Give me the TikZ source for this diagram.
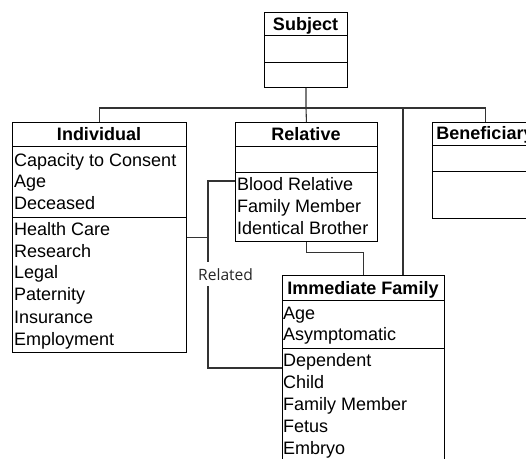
\documentclass[tikz,border=0pt]{standalone}
\usepackage{fontspec}
\setmainfont{Liberation Sans}
\newfontfamily\relfont{Open Sans}
\usetikzlibrary{calc}
\tikzset{
  box/.style={draw=black, line width=0.9pt, fill=white, inner sep=0pt, anchor=north west},
  divider/.style={draw=black, line width=0.9pt},
  title/.style={font=\fontsize{18}{22}\selectfont\bfseries, anchor=base, inner sep=0pt},
  attr/.style={font=\fontsize{18}{22}\selectfont, anchor=base west, inner sep=0pt},
  conn/.style={draw=black!80, line width=1.1pt},
  rellabel/.style={font=\relfont\fontsize{15.6}{18}\selectfont, text=black!85, fill=white, inner xsep=0pt, inner ysep=6pt, anchor=base west}
}
\begin{document}
\begin{tikzpicture}[x=1pt,y=-1pt]
\useasboundingbox (0,0) rectangle (526,458);
\clip (0,0) rectangle (526,458);

% boxes
\node[box, minimum width=83pt, minimum height=75pt] (subj) at (264,12) {};
\node[box, minimum width=174pt, minimum height=230pt] (ind) at (12,122) {};
\node[box, minimum width=142pt, minimum height=119pt] (rel) at (235,122) {};
\node[box, minimum width=106pt, minimum height=96pt] (ben) at (432,122) {};
\node[box, minimum width=162pt, minimum height=200pt] (imm) at (282,275) {};

% dividers
\foreach \b/\o in {subj/23, subj/50, ind/24, ind/95, rel/24, rel/50, ben/23, ben/49, imm/25, imm/73}
  \draw[divider] ($(\b.north west)+(0,\o)$) -- ($(\b.north east)+(0,\o)$);

% titles
\node[title] (subj-t) at (305.5,30) {Subject};
\node[title] (ind-t) at (99,140) {Individual};
\node[title] (rel-t) at (306,140) {Relative};
\node[title] (ben-t) at (485,139) {Beneficiary};
\node[title] (imm-t) at (363,294) {Immediate Family};

% attributes
\foreach \t/\y [count=\i] in {Capacity to Consent/166, Age/187, Deceased/209, Health Care/235, Research/257, Legal/278, Paternity/300, Insurance/323, Employment/345}
  \node[attr] (ind-\i) at (14,\y) {\t};
\foreach \t/\y [count=\i] in {Blood Relative/190, Family Member/212, Identical Brother/234}
  \node[attr] (rel-\i) at (237,\y) {\t};
\foreach \t/\y [count=\i] in {Age/319, Asymptomatic/340, Dependent/366, Child/388, Family Member/410, Fetus/432, Embryo/454}
  \node[attr] (imm-\i) at (283,\y) {\t};

% connectors
\coordinate (bus) at (306,108);
\coordinate (busimm) at (403,108);
\draw[conn] (subj.south) -- (bus);
\draw[conn] (ind.north) |- (bus);
\draw[conn] (ben.north) |- (bus);
\draw[conn] (bus) -- (rel.north);
\draw[conn] (busimm) -- (busimm |- imm.north);
\draw[conn] (rel.south) -- ++(0,11) -| (imm.north);

\coordinate (relA) at (208,181);
\coordinate (relB) at (208,368);
\draw[conn] (rel.west |- relA) -- (relA) -- (relB) -- (relB -| imm.west);
\draw[conn] (ind.east) -- (ind.east -| relA);
\node[rellabel] (related) at (198,280) {Related};
\end{tikzpicture}
\end{document}
